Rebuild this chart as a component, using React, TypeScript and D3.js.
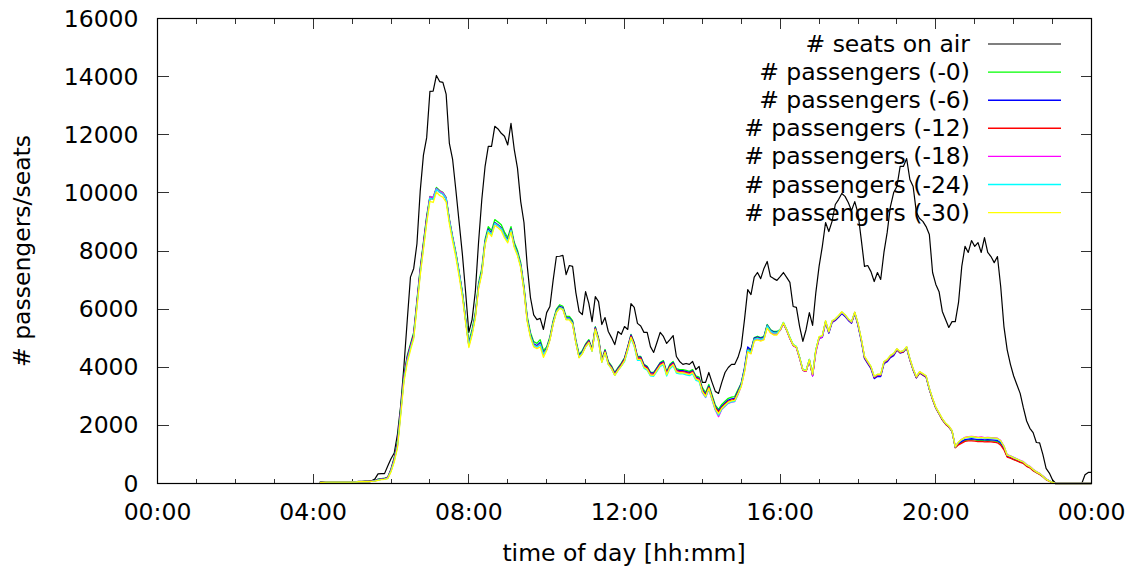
import React from "react";
import * as d3 from "d3";

// ---------- DATA ----------
// minutes of day where each series starts, and sampling step (minutes)
const SEATS_START = 4 * 60 + 10;
const SEATS_STEP = 5;
const PAX_START = 4 * 60 + 10;
const PAX_STEP = 5;

// # seats on air, 5-minute samples from 04:10
const seatsOnAir: number[] = [
  50, 60, 60, 60, 60, 60, 60, 60, 60, 60,
  60, 60, 70, 70, 80, 80, 90, 150, 330, 340, 340, 600,
  850, 1050, 1700, 2690, 4050, 5600, 7100, 7400, 8250, 10050, 11300, 11900,
  13490, 13500, 14040, 13830, 13800, 13400, 11700, 11150, 10100, 9000, 7900, 6600,
  5200, 5640, 6600, 8300, 9770, 10900, 11600, 11600, 12290, 12200, 12050, 11950,
  11650, 12390, 11500, 10850, 9700, 8980, 7500, 6400, 5800, 5640, 5680, 5300,
  5880, 6090, 7000, 7810, 7820, 7850, 7190, 7500, 7470, 6570, 5920, 5810,
  6600, 6200, 5570, 6430, 6260, 5470, 5710, 5230, 5020, 4780, 5230, 5130,
  5400, 5300, 6190, 6060, 5510, 5420, 5200, 5200, 4710, 4510, 4850, 5200,
  5060, 4820, 4950, 5090, 4370, 4200, 4100, 4130, 4100, 4200, 3920, 4030,
  3480, 3480, 3820, 3480, 3170, 3100, 3480, 3820, 3990, 4100, 4100, 4340,
  4710, 5640, 6670, 6500, 7100, 7260, 7050, 7400, 7640, 7120, 7050, 6990,
  7120, 7260, 7090, 6920, 6090, 6060, 5400, 4890, 5300, 5880, 5440, 6570,
  7470, 8160, 8980, 8670, 9020, 9600, 9770, 9980, 9880, 9670, 9390, 9700,
  9300, 8400, 7470, 7500, 7290, 6950, 7260, 7020, 7950, 8640, 9530, 10010,
  10220, 10910, 10910, 11180, 10460, 10220, 9330, 9120, 9020, 8840, 8570, 7260,
  6850, 6600, 5920, 5640, 5370, 5570, 5570, 6230, 7470, 8160, 7950, 8360,
  8160, 8290, 7950, 8460, 7950, 7810, 7600, 7810, 6780, 5400, 4600, 4100,
  3700, 3400, 3100, 2600, 2150, 1900, 1750, 1410, 1400, 1000, 520, 360,
  120, 0, 0, 0, 0, 0, 0, 0, 0, 0, 300, 380,
  380,
];

// # passengers, 5-minute samples from 04:10
const pax0: number[] = [
  30, 40, 50, 50, 50, 50, 50, 50, 50, 50,
  50, 50, 60, 60, 60, 60, 80, 100, 150, 170, 180, 220,
  500, 900, 1450, 2600, 3750, 4400, 4800, 5200, 6300, 7400, 8300, 9200,
  9880, 9840, 10190, 10080, 10020, 9850, 9100, 8500, 7950, 7300, 6600, 5700,
  4880, 5300, 5880, 6900, 7400, 8400, 8840, 8700, 9080, 9000, 8900, 8650,
  8460, 8840, 8300, 8020, 7600, 6800, 5750, 5200, 4880, 4820, 4950, 4580,
  4700, 5050, 5600, 6000, 6150, 6100, 5750, 5750, 5600, 4950, 4440, 4580,
  4800, 4950, 4650, 5400, 5000, 4270, 4610, 4200, 4050, 3820, 3990, 4140,
  4320, 4710, 5130, 4850, 4370, 4370, 4100, 4030, 3830, 3820, 3990, 4160,
  4230, 3850, 4100, 4200, 3950, 3920, 3920, 3890, 3860, 3920, 3700, 3660,
  3300, 3130, 3410, 3050, 2700, 2550, 2720, 2830, 2930, 2970, 2990, 3230,
  3450, 3950, 4650, 4580, 5020, 5060, 5020, 5060, 5470, 5300, 5230, 5230,
  5300, 5540, 5300, 5020, 4780, 4710, 4340, 3920, 3890, 4270, 3750, 4600,
  5020, 5060, 5570, 5200, 5570, 5640, 5750, 5880, 5780, 5640, 5540, 5880,
  5470, 4950, 4340, 4160, 3990, 3650, 3720, 3720, 4160, 4230, 4370, 4440,
  4610, 4510, 4540, 4680, 4270, 3920, 3650, 3820, 3750, 3680, 3250, 2900,
  2600, 2400, 2200, 2050, 1950, 1800, 1240, 1350, 1420, 1480, 1500, 1510,
  1500, 1480, 1490, 1470, 1480, 1470, 1460, 1450, 1370, 1200, 930, 880,
  830, 790, 740, 700, 600, 550, 450, 380, 320, 240, 140, 80,
  30, 0, 0, 0, 0, 0, 0, 0, 0, 0, 0, 0,
  0,
];

const pax6: number[] = [
  30, 40, 50, 50, 50, 50, 50, 50, 50, 50,
  50, 50, 60, 60, 60, 60, 80, 100, 140, 160, 170, 210,
  480, 870, 1400, 2550, 3700, 4350, 4750, 5150, 6250, 7350, 8250, 9150,
  9850, 9800, 10150, 10040, 9980, 9810, 9060, 8460, 7910, 7260, 6560, 5650,
  4800, 5220, 5800, 6820, 7320, 8320, 8760, 8620, 8980, 8900, 8800, 8560,
  8380, 8760, 8220, 7940, 7520, 6720, 5680, 5130, 4810, 4750, 4850, 4500,
  4650, 5000, 5550, 5950, 6100, 6050, 5700, 5700, 5550, 4900, 4400, 4540,
  4770, 4920, 4620, 5370, 4970, 4240, 4580, 4170, 4020, 3790, 3960, 4110,
  4300, 4690, 5110, 4830, 4350, 4350, 4080, 4010, 3810, 3800, 3970, 4140,
  4190, 3810, 4060, 4160, 3910, 3880, 3880, 3850, 3820, 3880, 3660, 3620,
  3240, 3070, 3350, 2990, 2640, 2500, 2660, 2770, 2870, 2910, 2930, 3170,
  3450, 3980, 4700, 4600, 5000, 5040, 5000, 5040, 5450, 5280, 5210, 5210,
  5270, 5510, 5270, 4990, 4750, 4680, 4310, 3890, 3860, 4240, 3700, 4550,
  4990, 5030, 5540, 5170, 5540, 5610, 5720, 5850, 5750, 5610, 5510, 5850,
  5430, 4910, 4300, 4120, 3950, 3610, 3680, 3680, 4120, 4190, 4330, 4400,
  4590, 4490, 4520, 4660, 4250, 3900, 3630, 3800, 3730, 3660, 3240, 2900,
  2600, 2400, 2200, 2050, 1950, 1800, 1250, 1370, 1450, 1510, 1530, 1540,
  1530, 1510, 1520, 1500, 1510, 1500, 1490, 1480, 1400, 1220, 940, 890,
  840, 800, 750, 710, 610, 560, 460, 390, 330, 250, 150, 80,
  30, 0, 0, 0, 0, 0, 0, 0, 0, 0, 0, 0,
  0,
];

const pax12: number[] = [
  30, 40, 50, 50, 50, 50, 50, 50, 50, 50,
  50, 50, 60, 60, 60, 60, 80, 90, 130, 150, 160, 200,
  460, 840, 1350, 2500, 3650, 4300, 4720, 5100, 6200, 7300, 8200, 9100,
  9820, 9780, 10130, 10020, 9960, 9790, 9040, 8440, 7890, 7240, 6540, 5620,
  4760, 5180, 5760, 6780, 7280, 8280, 8720, 8580, 8960, 8880, 8780, 8530,
  8350, 8730, 8190, 7910, 7490, 6690, 5640, 5090, 4770, 4710, 4800, 4470,
  4620, 4970, 5520, 5920, 6070, 6020, 5670, 5670, 5520, 4870, 4360, 4500,
  4740, 4890, 4590, 5340, 4940, 4210, 4550, 4140, 3990, 3760, 3930, 4080,
  4260, 4650, 5070, 4790, 4310, 4310, 4040, 3970, 3770, 3760, 3930, 4100,
  4160, 3780, 4030, 4130, 3880, 3850, 3850, 3820, 3790, 3850, 3630, 3590,
  3200, 3030, 3310, 2950, 2600, 2460, 2620, 2730, 2830, 2870, 2890, 3130,
  3400, 3900, 4600, 4530, 4970, 5010, 4970, 5010, 5420, 5250, 5180, 5180,
  5270, 5510, 5270, 4990, 4750, 4680, 4310, 3890, 3860, 4240, 3720, 4570,
  5020, 5060, 5570, 5200, 5570, 5640, 5750, 5880, 5780, 5640, 5540, 5880,
  5470, 4950, 4340, 4160, 3990, 3650, 3720, 3720, 4160, 4230, 4370, 4440,
  4600, 4500, 4530, 4670, 4260, 3910, 3640, 3810, 3740, 3670, 3240, 2890,
  2590, 2390, 2190, 2040, 1940, 1790, 1230, 1330, 1390, 1450, 1470, 1470,
  1460, 1440, 1450, 1430, 1440, 1430, 1420, 1400, 1320, 1160, 910, 870,
  820, 780, 730, 690, 590, 540, 440, 370, 310, 230, 130, 70,
  30, 0, 0, 0, 0, 0, 0, 0, 0, 0, 0, 0,
  0,
];

const pax18: number[] = [
  30, 40, 50, 50, 50, 50, 50, 50, 50, 50,
  50, 50, 60, 60, 60, 60, 70, 90, 120, 140, 150, 190,
  440, 800, 1300, 2450, 3600, 4250, 4680, 5060, 6150, 7250, 8150, 9050,
  9860, 9850, 10150, 10060, 10000, 9820, 9050, 8450, 7880, 7220, 6520, 5600,
  4740, 5160, 5740, 6760, 7260, 8260, 8700, 8560, 8940, 8860, 8760, 8510,
  8330, 8710, 8170, 7890, 7470, 6670, 5620, 5070, 4750, 4690, 4780, 4450,
  4600, 4950, 5500, 5900, 6050, 6000, 5650, 5650, 5500, 4850, 4340, 4480,
  4710, 4860, 4560, 5310, 4910, 4180, 4520, 4110, 3960, 3730, 3900, 4050,
  4220, 4610, 5030, 4750, 4270, 4270, 4000, 3930, 3730, 3720, 3890, 4060,
  4130, 3750, 4000, 4100, 3850, 3820, 3820, 3790, 3760, 3820, 3600, 3560,
  3130, 2960, 3240, 2880, 2530, 2300, 2550, 2660, 2760, 2800, 2820, 3060,
  3350, 3850, 4550, 4480, 4920, 4960, 4920, 4960, 5370, 5200, 5130, 5130,
  5280, 5520, 5280, 5000, 4760, 4690, 4320, 3900, 3870, 4250, 3700, 4500,
  4980, 5040, 5560, 5210, 5580, 5650, 5760, 5890, 5790, 5650, 5550, 5890,
  5490, 4970, 4360, 4180, 4010, 3670, 3740, 3740, 4180, 4250, 4390, 4460,
  4630, 4530, 4560, 4700, 4290, 3940, 3670, 3840, 3770, 3700, 3270, 2920,
  2620, 2420, 2220, 2070, 1970, 1820, 1270, 1420, 1520, 1590, 1610, 1620,
  1610, 1590, 1600, 1580, 1590, 1580, 1570, 1560, 1480, 1290, 990, 950,
  900, 850, 800, 750, 650, 590, 490, 410, 350, 260, 160, 90,
  40, 0, 0, 0, 0, 0, 0, 0, 0, 0, 0, 0,
  0,
];

const pax24: number[] = [
  30, 40, 50, 50, 50, 50, 50, 50, 50, 50,
  50, 50, 60, 60, 60, 60, 70, 90, 120, 140, 150, 180,
  430, 780, 1280, 2420, 3570, 4220, 4650, 5030, 6120, 7220, 8120, 9020,
  9820, 9780, 10130, 10020, 9960, 9790, 9040, 8440, 7890, 7240, 6540, 5630,
  4750, 5170, 5750, 6770, 7270, 8270, 8710, 8570, 8950, 8870, 8770, 8520,
  8340, 8720, 8180, 7900, 7480, 6680, 5630, 5080, 4760, 4700, 4790, 4460,
  4610, 4960, 5510, 5910, 6060, 6010, 5660, 5660, 5510, 4860, 4350, 4490,
  4700, 4850, 4550, 5300, 4900, 4170, 4510, 4100, 3950, 3720, 3890, 4040,
  4190, 4580, 5000, 4720, 4240, 4240, 3970, 3900, 3700, 3690, 3860, 4030,
  4080, 3700, 3950, 4050, 3800, 3770, 3770, 3740, 3710, 3770, 3550, 3510,
  3140, 2970, 3250, 2890, 2540, 2350, 2560, 2670, 2770, 2810, 2830, 3070,
  3390, 3890, 4590, 4520, 4960, 5000, 4960, 5000, 5420, 5250, 5180, 5180,
  5300, 5540, 5300, 5020, 4780, 4710, 4340, 3920, 3890, 4270, 3760, 4600,
  5040, 5080, 5590, 5220, 5590, 5660, 5770, 5900, 5800, 5660, 5560, 5890,
  5500, 4980, 4370, 4190, 4020, 3680, 3750, 3750, 4190, 4260, 4400, 4470,
  4630, 4530, 4560, 4700, 4290, 3940, 3670, 3840, 3770, 3700, 3270, 2920,
  2620, 2420, 2220, 2070, 1970, 1810, 1260, 1420, 1510, 1570, 1590, 1600,
  1590, 1570, 1580, 1560, 1570, 1560, 1550, 1540, 1460, 1280, 980, 940,
  890, 840, 790, 740, 640, 580, 480, 400, 340, 250, 150, 90,
  40, 0, 0, 0, 0, 0, 0, 0, 0, 0, 0, 0,
  0,
];

const pax30: number[] = [
  30, 40, 50, 50, 50, 50, 50, 50, 50, 50,
  50, 50, 60, 60, 60, 60, 70, 80, 110, 130, 140, 170,
  400, 740, 1230, 2350, 3500, 4150, 4580, 4980, 6050, 7150, 8050, 8950,
  9710, 9670, 10020, 9910, 9850, 9680, 8930, 8330, 7780, 7130, 6430, 5530,
  4680, 5100, 5680, 6700, 7200, 8200, 8640, 8500, 8880, 8800, 8700, 8450,
  8280, 8660, 8120, 7840, 7420, 6620, 5570, 5020, 4700, 4640, 4700, 4340,
  4580, 4930, 5480, 5880, 6030, 5980, 5630, 5630, 5480, 4830, 4320, 4460,
  4700, 4850, 4550, 5300, 4900, 4170, 4510, 4100, 3950, 3720, 3890, 4040,
  4220, 4610, 5030, 4750, 4270, 4270, 4000, 3930, 3730, 3720, 3890, 4060,
  4120, 3740, 3990, 4090, 3840, 3810, 3810, 3780, 3750, 3810, 3590, 3550,
  3170, 3000, 3280, 2920, 2570, 2400, 2590, 2700, 2800, 2840, 2860, 3100,
  3330, 3830, 4530, 4460, 4900, 4940, 4900, 4940, 5350, 5180, 5110, 5110,
  5290, 5530, 5290, 5010, 4770, 4700, 4330, 3910, 3880, 4260, 3760, 4580,
  5050, 5090, 5600, 5230, 5600, 5670, 5780, 5910, 5810, 5670, 5570, 5900,
  5510, 4990, 4380, 4200, 4030, 3690, 3760, 3760, 4200, 4270, 4410, 4480,
  4640, 4540, 4570, 4710, 4300, 3950, 3680, 3850, 3780, 3710, 3280, 2930,
  2630, 2430, 2230, 2080, 1980, 1820, 1270, 1430, 1520, 1580, 1600, 1610,
  1600, 1580, 1590, 1570, 1580, 1570, 1560, 1550, 1470, 1280, 980, 940,
  880, 840, 790, 740, 640, 580, 480, 400, 340, 250, 150, 80,
  40, 0, 0, 0, 0, 0, 0, 0, 0, 0, 0, 0,
  0,
];

const seriesLabels = [
  "# seats on air",
  "# passengers (-0)",
  "# passengers (-6)",
  "# passengers (-12)",
  "# passengers (-18)",
  "# passengers (-24)",
  "# passengers (-30)",
];
const seriesColors = ["#000000", "#00ff00", "#0000ff", "#ff0000", "#ff00ff", "#00ffff", "#ffff00"];

const xTickMinutes = [0, 240, 480, 720, 960, 1200, 1440];
const xTickLabels = ["00:00", "04:00", "08:00", "12:00", "16:00", "20:00", "00:00"];
const yTicks = [0, 2000, 4000, 6000, 8000, 10000, 12000, 14000, 16000];

// ---------- LAYOUT ----------
const W = 1133;
const H = 566;
const L = 157.5;
const R = 1091.5;
const T = 18.5;
const B = 483.5;
const FONT = "'DejaVu Sans', sans-serif";
const FS = 23.5;

export default function App() {
  const x = d3.scaleLinear().domain([0, 1440]).range([L, R]);
  const y = d3.scaleLinear().domain([0, 16000]).range([B, T]);

  const toPts = (vals: number[], start: number, step: number): [number, number][] =>
    vals.map((v, i) => [start + i * step, v]);

  const line = d3
    .line<[number, number]>()
    .x((d) => x(d[0]))
    .y((d) => y(d[1]));

  const series: { pts: [number, number][]; color: string; width: number }[] = [
    { pts: toPts(seatsOnAir, SEATS_START, SEATS_STEP), color: seriesColors[0], width: 1.2 },
    { pts: toPts(pax0, PAX_START, PAX_STEP), color: seriesColors[1], width: 1.3 },
    { pts: toPts(pax6, PAX_START, PAX_STEP), color: seriesColors[2], width: 1.3 },
    { pts: toPts(pax12, PAX_START, PAX_STEP), color: seriesColors[3], width: 1.3 },
    { pts: toPts(pax18, PAX_START, PAX_STEP), color: seriesColors[4], width: 1.3 },
    { pts: toPts(pax24, PAX_START, PAX_STEP), color: seriesColors[5], width: 1.3 },
    { pts: toPts(pax30, PAX_START, PAX_STEP), color: seriesColors[6], width: 1.3 },
  ];

  const minorTicks = d3.range(0, 1441, 60).filter((m) => m % 240 !== 0);

  const legendTextX = 970;
  const legendLineX1 = 988;
  const legendLineX2 = 1061;
  const legendY0 = 44;
  const legendDY = 28.1;

  return (
    <svg
      width={W}
      height={H}
      viewBox={`0 0 ${W} ${H}`}
      style={{ position: "absolute", left: 0, top: 0, background: "#fff" }}
      fontFamily={FONT}
    >
      <rect x={0} y={0} width={W} height={H} fill="#fff" />

      {/* ticks */}
      <g stroke="#333" strokeWidth={1} shapeRendering="crispEdges">
        {yTicks.map((v) => (
          <g key={"yt" + v}>
            <line x1={L} x2={L + 11} y1={y(v)} y2={y(v)} />
            <line x1={R} x2={R - 11} y1={y(v)} y2={y(v)} />
          </g>
        ))}
        {xTickMinutes.map((m, i) => (
          <g key={"xt" + i}>
            <line x1={x(m)} x2={x(m)} y1={B} y2={B - 10} />
            <line x1={x(m)} x2={x(m)} y1={T} y2={T + 10} />
          </g>
        ))}
        {minorTicks.map((m) => (
          <g key={"mt" + m}>
            <line x1={x(m)} x2={x(m)} y1={B} y2={B - 5} />
            <line x1={x(m)} x2={x(m)} y1={T} y2={T + 5} />
          </g>
        ))}
      </g>

      {/* tick labels */}
      <g fontSize={FS} fill="#000">
        {yTicks.map((v) => (
          <text key={"yl" + v} x={138.5} y={y(v)} textAnchor="end" dominantBaseline="central">
            {String(v)}
          </text>
        ))}
        {xTickMinutes.map((m, i) => (
          <text key={"xl" + i} x={x(m)} y={512} textAnchor="middle" dominantBaseline="central">
            {xTickLabels[i]}
          </text>
        ))}
      </g>

      {/* axis titles */}
      <text x={624} y={553} fontSize={FS} textAnchor="middle" dominantBaseline="central">
        time of day [hh:mm]
      </text>
      <text
        x={22}
        y={251}
        fontSize={FS}
        textAnchor="middle"
        dominantBaseline="central"
        transform={`rotate(-90 22 251)`}
      >
        # passengers/seats
      </text>

      {/* legend */}
      <g fontSize={FS}>
        {seriesLabels.map((lab, i) => (
          <g key={"lg" + i}>
            <text
              x={legendTextX}
              y={legendY0 + i * legendDY}
              textAnchor="end"
              dominantBaseline="central"
              fill="#000"
            >
              {lab}
            </text>
            <line
              x1={legendLineX1}
              x2={legendLineX2}
              y1={legendY0 + i * legendDY}
              y2={legendY0 + i * legendDY}
              stroke={seriesColors[i]}
              strokeWidth={i === 0 ? 1.1 : 1.4}
            />
          </g>
        ))}
      </g>

      {/* data lines */}
      <g fill="none" strokeLinejoin="round">
        {series.map((s, i) => (
          <path key={"s" + i} d={line(s.pts) || ""} stroke={s.color} strokeWidth={s.width} />
        ))}
      </g>

      {/* border */}
      <rect x={L} y={T} width={R - L} height={B - T} fill="none" stroke="#000" strokeWidth={1.2} />
    </svg>
  );
}
